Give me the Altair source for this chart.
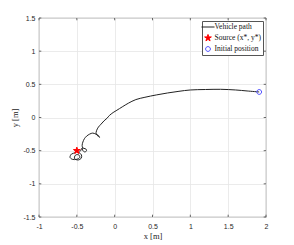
import altair as alt
import pandas as pd

# Vehicle path (from the initial position toward the source)
path_x = [1.91, 1.75, 1.60, 1.40, 1.20, 1.00, 0.85, 0.70, 0.55, 0.40, 0.28, 0.18,
          0.10, 0.03, -0.02, -0.07, -0.10, -0.14, -0.18, -0.215, -0.24, -0.245,
          -0.22, -0.20, -0.215, -0.25, -0.29, -0.33, -0.37, -0.40, -0.42, -0.43,
          -0.42, -0.39, -0.37, -0.39, -0.42, -0.43, -0.45, -0.47, -0.44, -0.44,
          -0.48, -0.53, -0.52, -0.48, -0.46, -0.50, -0.56, -0.59, -0.57, -0.52, -0.50]
path_y = [0.385, 0.40, 0.415, 0.425, 0.422, 0.415, 0.395, 0.37, 0.34, 0.305, 0.27, 0.215,
          0.16, 0.11, 0.075, 0.03, -0.01, -0.05, -0.10, -0.145, -0.20, -0.25,
          -0.28, -0.30, -0.27, -0.25, -0.235, -0.25, -0.28, -0.32, -0.37, -0.42,
          -0.46, -0.47, -0.49, -0.52, -0.50, -0.46, -0.50, -0.53, -0.56, -0.61,
          -0.64, -0.62, -0.57, -0.56, -0.60, -0.63, -0.63, -0.60, -0.55, -0.53, -0.50]
source_x = [-0.5]
source_y = [-0.5]
init_x = [1.91]
init_y = [0.385]
x_ticks = [-1.0, -0.5, 0.0, 0.5, 1.0, 1.5, 2.0]
y_ticks = [-1.5, -1.0, -0.5, 0.0, 0.5, 1.0, 1.5]
legend_labels = ["Vehicle path", "Source (x*, y*)", "Initial position"]

W, H = 227, 199
LINE_SYM = "M-1.85,0L1.85,0"
STAR = ("M0,-1L0.2245,-0.309L0.951,-0.309L0.3633,0.118L0.588,0.809L0,0.382"
        "L-0.588,0.809L-0.3633,0.118L-0.951,-0.309L-0.2245,-0.309Z")
CIRC = "M-0.68,0A0.68,0.68,0,1,1,0.68,0A0.68,0.68,0,1,1,-0.68,0Z"

path_df = pd.DataFrame({"x": path_x, "y": path_y, "i": range(len(path_x))})
pts_df = pd.DataFrame({"x": source_x + init_x, "y": source_y + init_y,
                       "series": [legend_labels[1], legend_labels[2]]})
xt_df = pd.DataFrame({"x": x_ticks})
yt_df = pd.DataFrame({"y": y_ticks})

xscale = alt.Scale(domain=[-1, 2], nice=False, zero=False)
yscale = alt.Scale(domain=[-1.5, 1.5], nice=False, zero=False)

xaxis = alt.Axis(values=x_ticks, labelExpr="'' + datum.value", title="x  [m]",
                 grid=True, ticks=False, tickSize=0, domain=False, labelPadding=5,
                 labelOverlap=False, labelFlush=False, labelBound=False,
                 titleY=18, titleBaseline="middle")
yaxis = alt.Axis(values=y_ticks, labelExpr="'' + datum.value", title="y  [m]",
                 grid=True, ticks=False, tickSize=0, domain=False, labelPadding=4,
                 labelOverlap=False, labelFlush=False, labelBound=False,
                 titleX=-25, titleY=H / 2, titleBaseline="middle")
X = alt.X("x:Q", scale=xscale, axis=xaxis)
Y = alt.Y("y:Q", scale=yscale, axis=yaxis)

legend = alt.Legend(
    title=None, orient="top-right", offset=3, padding=1.5,
    fillColor="white", strokeColor="#555", cornerRadius=0,
    labelFont="Liberation Serif", labelFontSize=7.5, labelColor="#111",
    labelOffset=2, rowPadding=1, symbolSize=50, symbolStrokeWidth=1,
    symbolFillColor="transparent", symbolStrokeColor="#222", symbolOpacity=1,
)

path = alt.Chart(path_df).mark_line(interpolate="catmull-rom", color="#222",
                                    strokeWidth=1).encode(x=X, y=Y, order="i:Q")

pts = alt.Chart(pts_df).mark_point(size=50, opacity=1, strokeWidth=1).encode(
    x=X, y=Y,
    shape=alt.Shape("series:N", scale=alt.Scale(domain=legend_labels,
                                                range=[LINE_SYM, STAR, CIRC]),
                    legend=legend),
    stroke=alt.Stroke("series:N", scale=alt.Scale(domain=legend_labels,
                                                  range=["#222", "red", "#4a4aff"]),
                      legend=legend),
    fill=alt.Fill("series:N", scale=alt.Scale(domain=legend_labels,
                                              range=["transparent", "red", "transparent"]),
                  legend=legend),
)

tick_style = dict(color="#444", strokeWidth=0.8)
xt_bot = alt.Chart(xt_df).mark_rule(**tick_style).encode(
    x=X, y=alt.value(H), y2=alt.value(H - 2.3))
xt_top = alt.Chart(xt_df).mark_rule(**tick_style).encode(
    x=X, y=alt.value(0), y2=alt.value(2.3))
yt_left = alt.Chart(yt_df).mark_rule(**tick_style).encode(
    y=Y, x=alt.value(0), x2=alt.value(2.3))
yt_right = alt.Chart(yt_df).mark_rule(**tick_style).encode(
    y=Y, x=alt.value(W), x2=alt.value(W - 2.3))

chart = alt.layer(path, xt_bot, xt_top, yt_left, yt_right, pts).properties(
    width=W, height=H, background="white",
    autosize=alt.AutoSizeParams(type="none"),
    padding={"left": 31, "top": 10, "right": 15, "bottom": 25},
).configure_view(stroke="#555", strokeWidth=0.8).configure_axis(
    labelFont="Liberation Sans", labelFontSize=7, labelColor="#262626",
    titleFont="Liberation Serif", titleFontSize=8.5, titleFontWeight="normal",
    titleColor="#262626", gridColor="#e6e6e6", gridWidth=0.8, labelOverlap=False,
)

chart.save("out.html", embed_options={"renderer": "svg", "actions": False})
